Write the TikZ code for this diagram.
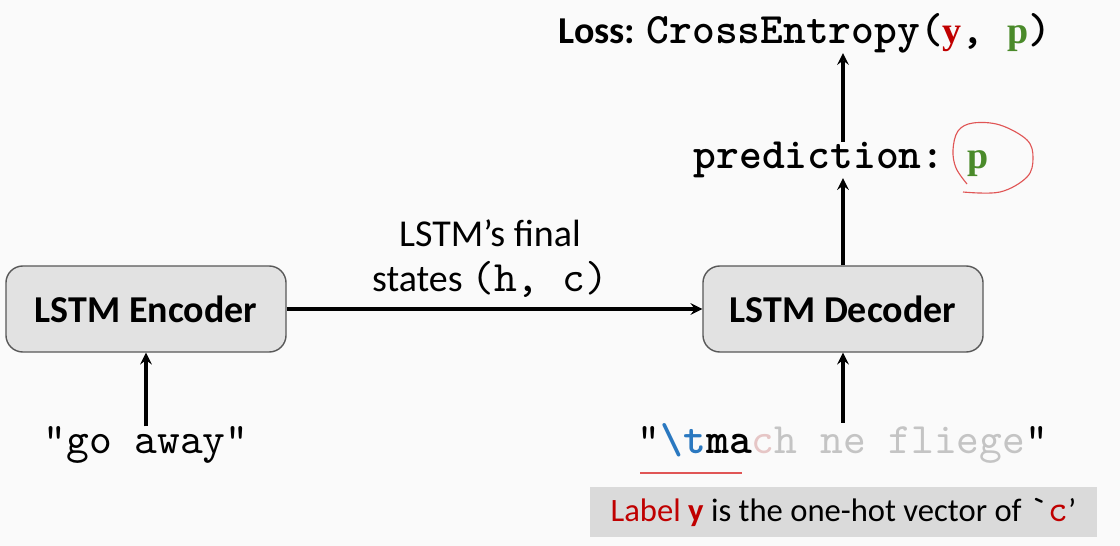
\documentclass[tikz,border=0pt]{standalone}
\usepackage{fontspec}
\setmainfont{Carlito}
\setmonofont{lmmono10-regular.otf}[Scale=1.143, BoldFont=lmmonolt10-bold.otf]
\newfontfamily\serifb{Liberation Serif}
\usepackage{xcolor}
\usetikzlibrary{arrows,positioning}
\definecolor{bgWhite}{HTML}{FAFAFA}
\definecolor{lRed}{HTML}{C00000}
\definecolor{lGreen}{HTML}{4A8A2A}
\definecolor{lBlue}{HTML}{2A78C0}
\definecolor{boxGray}{HTML}{E2E2E2}
\definecolor{noteGray}{HTML}{DADADA}
\definecolor{fadeTxt}{HTML}{C4C4C4}
\definecolor{fadePink}{HTML}{E6C6C6}
\definecolor{inkRed}{HTML}{E05555}
\tikzset{box/.style={draw=black!65, fill=boxGray, rounded corners=12pt,
  line width=1pt, minimum width=7cm, minimum height=2.15cm,
  font=\fontsize{27}{32}\selectfont\bfseries}}
\tikzset{arr/.style={draw, line width=2.6pt, black, -stealth}}
\tikzset{ink/.style={draw, inkRed, line width=0.8pt}}
\tikzset{tt/.style={inner sep=0pt, font=\fontsize{27}{32}\selectfont\ttfamily}}

\begin{document}
\begin{tikzpicture}[x=0.025cm, y=-0.025cm]
        \useasboundingbox[fill=bgWhite] (0,0) rectangle (1120,546);
        %% encoder / decoder
        \node (enc) at (146,309) [box] {LSTM Encoder};
        \node (dec) at (843,309) [box] {LSTM Decoder};
        \node (hc) at (490,259) [align=center,
            font=\fontsize{27}{32}\selectfont] {LSTM's final\\states \texttt{(h, c)}};
        \node (src) at (146,445) [tt] {"go away"};
        \node (tgt) at (843,443) [tt] {"{\bfseries\color{lBlue}\textbackslash t}{\bfseries ma}{\color{fadePink}c}{\color{fadeTxt}h ne fliege}"};
        \node (pred) at (841,160) [tt, font=\fontsize{27}{32}\selectfont\ttfamily\bfseries]
            {prediction: {\serifb\color{lGreen}p}};
        \node (loss) at (805,33) [inner sep=0pt, font=\fontsize{27}{32}\selectfont\bfseries]
            {Loss: \texttt{CrossEntropy({\serifb\color{lRed}y}, {\serifb\color{lGreen}p})}};
        \node (note) at (843.5,512) [fill=noteGray, inner sep=0pt,
            minimum width=12.675cm, minimum height=1.25cm,
            font=\fontsize{23.2}{27}\selectfont]
            {{\color{lRed}Label \textbf{y}} is the one-hot vector of \texttt{`{\color{lRed}c}}'};
        \draw [arr] (enc) -- (hc |- enc) -- (dec);
        \draw [arr] (src) -- (enc);
        \draw [arr] (tgt.north -| dec) -- (dec);
        \draw [arr] (dec) -- (dec |- pred.south);
        \draw [arr] (dec |- pred.north) -- (dec |- loss.south);
        %% hand marks
        \coordinate (u1) at (640,473);
        \coordinate (u2) at (742,473);
        \draw [ink] (u1) -- (u2);
        \draw [ink] plot[smooth, tension=0.6] coordinates {(967,184) (956,168) (953,150)
            (958,131) (973,123) (1000,125) (1027,140) (1033,158) (1027,177)
            (1000,192) (963,192)};
\end{tikzpicture}
\end{document}
